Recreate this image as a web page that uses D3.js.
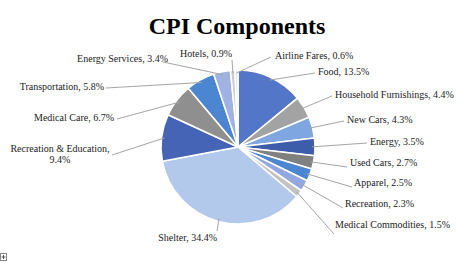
<!DOCTYPE html>
<html>
<head>
<meta charset="utf-8">
<script src="https://cdn.jsdelivr.net/npm/d3@7"></script>
<style>
  body { margin: 0; background: #fff; }
  svg { display: block; }
  svg text { font-family: "Liberation Serif", "Times New Roman", serif; }
</style>
</head>
<body>
<div id="chart"></div>
<script>
// CPI component weights, clockwise from 12 o'clock
const categories = ["Food", "Household Furnishings", "New Cars", "Energy", "Used Cars",
  "Apparel", "Recreation", "Medical Commodities", "Shelter", "Recreation & Education",
  "Medical Care", "Transportation", "Energy Services", "Hotels", "Airline Fares"];
const weights = [13.5, 4.4, 4.3, 3.5, 2.7, 2.5, 2.3, 1.5, 34.4, 9.4, 6.7, 5.8, 3.4, 0.9, 0.6];

// rim colour / centre colour of each slice gradient
const rimColors = ["#5476c8", "#a3a3a3", "#7ea6e0", "#3d5dab", "#808080", "#4c86d0", "#93a8e0",
  "#c2c2c2", "#b2c9ec", "#4564b5", "#8f8f8f", "#4c86d0", "#9fb2e2", "#cccccc", "#d8e2f4"];
const midColors = ["#9ab3e3", "#d5d5d5", "#b6ccee", "#7b95d4", "#b8b8b8", "#92b7e7", "#c6d2f1",
  "#e2e2e2", "#98b5e1", "#8199d8", "#c3c3c3", "#92b7e7", "#cbd6f2", "#e4e4e4", "#ebf0fa"];

// label anchor (x, y baseline, text-anchor) — layout only
const labelLayout = {
  "Food": [318, 75, "start"],
  "Household Furnishings": [335, 98, "start"],
  "New Cars": [347, 123, "start"],
  "Energy": [370, 145, "start"],
  "Used Cars": [350, 166, "start"],
  "Apparel": [354, 186, "start"],
  "Recreation": [345, 207, "start"],
  "Medical Commodities": [335, 228, "start"],
  "Shelter": [217, 241, "end"],
  "Recreation & Education": [109, 152, "end"],
  "Medical Care": [114, 121, "end"],
  "Transportation": [104, 90, "end"],
  "Energy Services": [168, 62, "end"],
  "Hotels": [232, 57, "end"],
  "Airline Fares": [275, 59, "start"]
};
// where each leader line leaves the label
const leaderStart = {
  "Food": [315, 73], "Household Furnishings": [332, 96], "New Cars": [344, 121],
  "Energy": [367, 143], "Used Cars": [347, 167], "Apparel": [352, 187],
  "Recreation": [343, 208], "Medical Commodities": [334, 234], "Shelter": [217, 231],
  "Recreation & Education": [112, 155], "Medical Care": [117, 119], "Transportation": [106, 88],
  "Energy Services": [163, 62], "Hotels": [232, 60], "Airline Fares": [271, 57]
};

const W = 474, H = 262;
const cx = 238, cy = 147, R = 77;
const serifFont = "Liberation Serif";

const data = categories.map((c, i) => ({ name: c, value: weights[i], i: i }));

const svg = d3.select("#chart").append("svg")
  .attr("width", W).attr("height", H);

const defs = svg.append("defs");
data.forEach(d => {
  const g = defs.append("radialGradient")
    .attr("id", "grad" + d.i)
    .attr("gradientUnits", "userSpaceOnUse")
    .attr("cx", cx).attr("cy", cy).attr("r", R);
  g.append("stop").attr("offset", "0%").attr("stop-color", midColors[d.i]);
  g.append("stop").attr("offset", "100%").attr("stop-color", rimColors[d.i]);
});

// title
svg.append("text")
  .attr("x", 237).attr("y", 34)
  .attr("text-anchor", "middle")
  .attr("font-family", serifFont)
  .attr("font-weight", "bold")
  .attr("font-size", 24)
  .text("CPI Components");

const pie = d3.pie().sort(null).value(d => d.value);
const arc = d3.arc().innerRadius(0).outerRadius(R);
const arcs = pie(data);

const g = svg.append("g").attr("transform", `translate(${cx},${cy})`);

g.selectAll("path")
  .data(arcs)
  .join("path")
  .attr("d", arc)
  .attr("fill", d => `url(#grad${d.data.i})`)
  .attr("stroke", "#fff")
  .attr("stroke-width", 1.6)
  .attr("stroke-linejoin", "round");

// leader lines
const edgeArc = d3.arc().innerRadius(R - 3).outerRadius(R - 3);
svg.append("g")
  .selectAll("polyline")
  .data(arcs)
  .join("polyline")
  .attr("points", d => {
    const p = edgeArc.centroid(d);
    const s = leaderStart[d.data.name];
    return [[s[0], s[1]], [cx + p[0], cy + p[1]]].map(q => q.join(",")).join(" ");
  })
  .attr("fill", "none")
  .attr("stroke", "#a6a6a6")
  .attr("stroke-width", 1);

// labels
const labels = svg.append("g");

arcs.forEach(d => {
  const [x, y, anchor] = labelLayout[d.data.name];
  const txt = d.data.name + ", " + d3.format(".1f")(d.data.value) + "%";
  let t;
  if (d.data.name === "Recreation & Education") {
    t = labels.append("text").attr("text-anchor", "middle");
    t.append("tspan").attr("x", 60).attr("y", y).text(d.data.name + ",");
    t.append("tspan").attr("x", 60).attr("y", y + 11).text(d3.format(".1f")(d.data.value) + "%");
  } else {
    t = labels.append("text")
      .attr("x", x).attr("y", y)
      .attr("text-anchor", anchor)
      .text(txt);
  }
  t.attr("font-family", serifFont).attr("font-size", 10).attr("fill", "#222");
});

// tiny corner handle glyph
svg.append("rect")
  .attr("x", 0.5).attr("y", 253.5).attr("width", 6).attr("height", 7)
  .attr("fill", "#fff").attr("stroke", "#888").attr("stroke-width", 1);
svg.append("path")
  .attr("d", "M1.5,257H5.5M3.5,255V259")
  .attr("stroke", "#555").attr("stroke-width", 1);
</script>
</body>
</html>
